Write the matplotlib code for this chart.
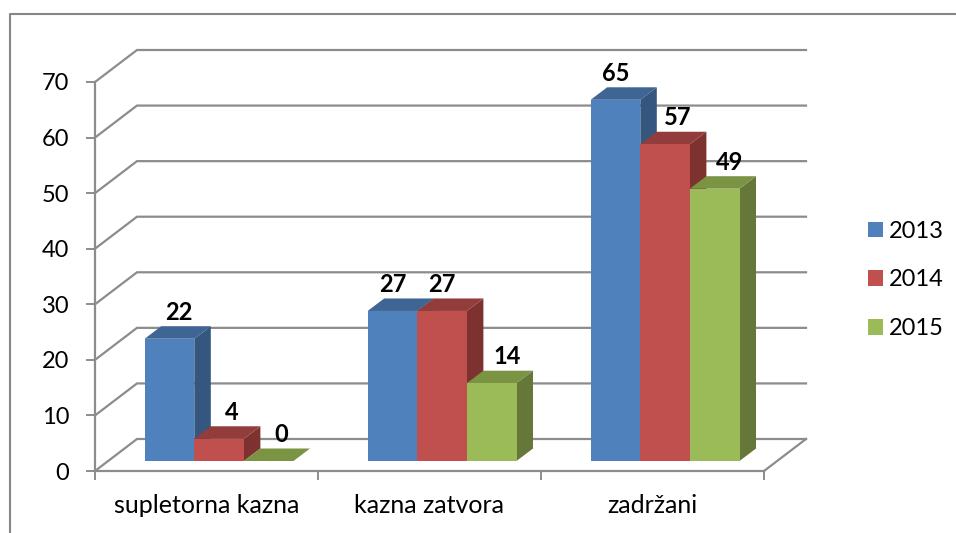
import matplotlib
matplotlib.use('Agg')
import matplotlib.pyplot as plt
from matplotlib.patches import Patch, Polygon
from matplotlib.lines import Line2D

categories = ['supletorna kazna', 'kazna zatvora', 'zadržani']
years = ['2013', '2014', '2015']
val_2013 = [22, 27, 65]
val_2014 = [4, 27, 57]
val_2015 = [0, 14, 49]
yticks = [0, 10, 20, 30, 40, 50, 60, 70]

front_colors = ['#4F81BD', '#C0504D', '#9BBB59']
side_colors = ['#34567F', '#7D3230', '#65783A']
top_colors = ['#3E6594', '#923D3B', '#7A9444']
grid_color = '#8C8C8C'

plt.rcParams['font.family'] = 'Lato'

# pixel layout of the picture
W, H = 956, 533
X0, Y0 = 95, 471
PX_CAT = 223.0
PX_VAL = 389 / 70.0


def px(x, y):
    """ pixel position in the picture -> data position"""
    return (x - X0) / PX_CAT, (Y0 - y) / PX_VAL


fig = plt.figure(figsize=(W / 100, H / 100), dpi=100)
ax = fig.add_axes([0, 0, 1, 1])
ax.set_xlim(-X0 / PX_CAT, (W - X0) / PX_CAT)
ax.set_ylim((Y0 - H) / PX_VAL, Y0 / PX_VAL)
ax.patch.set_visible(False)

# depth of the chart box and of the bars
wall_dx, wall_dy = 42 / PX_CAT, 32 / PX_VAL
bar_dx, bar_dy = 16.5 / PX_CAT, 12.5 / PX_VAL
base_dx, base_dy = 12.6 / PX_CAT, 10 / PX_VAL
bar_w = 49.6 / PX_CAT
gap = (1 - 3 * bar_w) / 2

# outer frame, only the left and top edges are there
ax.add_line(Line2D(*zip(px(10, H), px(10, 14), px(W, 14)), color='#868686', lw=1.5, zorder=1))

# walls and gridlines
for v in yticks:
    ax.plot([0, wall_dx, 3 + wall_dx], [v, v + wall_dy, v + wall_dy],
            color=grid_color, lw=1.6, zorder=2, solid_joinstyle='miter')
ax.plot([3, 3 + wall_dx], [0, wall_dy], color=grid_color, lw=1.6, zorder=2)

# bars: front, side and top faces
series = [val_2013, val_2014, val_2015]
label_nudge = [[9, 0, 0], [13, 0, 13], [13, 15, 15]]
for s, vals in enumerate(series):
    for c, v in enumerate(vals):
        x = c + gap + base_dx + s * bar_w
        y = base_dy
        z = 5 + s + 3 * c
        side = [(x + bar_w, y), (x + bar_w + bar_dx, y + bar_dy),
                (x + bar_w + bar_dx, y + v + bar_dy), (x + bar_w, y + v)]
        top = [(x, y + v), (x + bar_dx, y + v + bar_dy),
               (x + bar_w + bar_dx, y + v + bar_dy), (x + bar_w, y + v)]
        if v > 0:
            ax.add_patch(Polygon(side, fc=side_colors[s], ec='none', zorder=z))
        ax.add_patch(Polygon(top, fc=top_colors[s], ec='none', zorder=z))
        if v > 0:
            ax.bar(x, v, bar_w, bottom=y, align='edge', color=front_colors[s],
                   edgecolor='none', zorder=z)
        ax.text(x + bar_w / 2 + label_nudge[s][c] / PX_CAT, y + v + 26.5 / PX_VAL, str(v),
                ha='center', va='center', fontsize=17, fontweight='bold',
                color='black', zorder=30)

# axes through the spines
for name in ['top', 'right']:
    ax.spines[name].set_visible(False)
ax.spines['left'].set_position(('data', 0))
ax.spines['bottom'].set_position(('data', 0))
ax.spines['left'].set_bounds(0, 70)
ax.spines['bottom'].set_bounds(0, 3)
for name in ['left', 'bottom']:
    ax.spines[name].set_color(grid_color)
    ax.spines[name].set_linewidth(1.6)
ax.set_yticks(yticks)
ax.set_yticklabels([str(v) for v in yticks])
ax.set_xticks([0, 1, 2, 3])
ax.set_xticklabels([])
ax.set_xticks([0.5, 1.5, 2.5], minor=True)
ax.set_xticklabels(categories, minor=True)
ax.tick_params(axis='y', length=6.5, width=1.4, color=grid_color, labelsize=17, pad=12, labelcolor='black')
ax.tick_params(axis='x', which='major', length=6.5, width=1.4, color=grid_color)
ax.tick_params(axis='x', which='minor', length=0, labelsize=18, pad=16.5, labelcolor='black')

handles = [Patch(fc=c, ec='none') for c in front_colors]
ax.legend(handles, years, loc='center left', bbox_to_anchor=(868 / W, 1 - 280 / H),
          frameon=False, fontsize=17, handlelength=0.64, handleheight=0.64,
          handletextpad=0.25, labelspacing=1.17, borderpad=0, borderaxespad=0)

fig.savefig('out.png', dpi=100)
